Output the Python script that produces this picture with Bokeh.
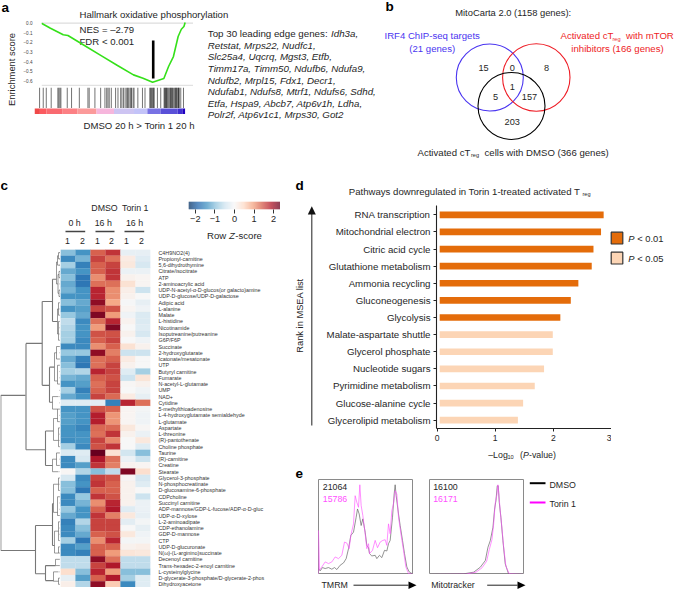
from bokeh.plotting import figure
from bokeh.models import FixedTicker, Range1d, LinearAxis
from bokeh.core.properties import value
from bokeh.embed import file_html
from bokeh.resources import INLINE
import math

FONT = "Liberation Sans"
INK = "#262626"

# ---- panel a: GSEA
es_rank = [0, 5.9, 14.3, 17.4, 26.9, 39.5, 50, 60.5, 66.8, 73.1, 80.5, 83.6, 86.8, 89.9, 92, 93.7, 94.5]
es_score = [0, -0.052, -0.12, -0.128, -0.219, -0.34, -0.441, -0.538, -0.573, -0.615, -0.576, -0.451, -0.347, -0.139, -0.0625, -0.035, 0.007]
es_ticks = [0, -0.1, -0.2, -0.3, -0.4, -0.5, -0.6]
peak_rank = 73.5
peak_span = [-0.18, -0.575]
hit_ranks = [3.2, 5.5, 7.4, 10.5, 14.7, 15.3, 16, 16.6, 20.6, 23.3, 28.2, 33.6, 34.4, 38, 41.6, 44.3, 45.4, 46.2,
             47, 48.3, 51, 52.5, 54.2, 55, 56, 57, 58, 58.6, 59, 60, 60.6, 61, 62, 62.6, 65, 67.9, 69.5, 72.5, 73, 73.5,
             74, 74.5, 75, 75.2, 77.3, 79.4, 81.5, 81.9, 82.3, 82.7, 83, 83.5, 84, 84.6, 85.2, 85.6, 86, 86.4, 86.8,
             87.5, 88.2, 88.6, 89, 89.4, 89.8, 90.5, 90.7, 91, 92, 93.7]
strip_edges = [0, 3.4, 7.6, 17.4, 26.9, 39, 50, 62.6, 71, 79.4, 90, 93, 94.7]
strip_colors = ["#f04848", "#fb5a5f", "#f96a70", "#fc8084", "#fb9a9a", "#f6b6dc", "#cdc4f2", "#c3c3f8",
                "#7872e4", "#5a50d8", "#4030d0", "#2000c0"]
gene_lines = ["Retstat, Mrps22, Nudfc1,", "Slc25a4, Uqcrq, Mgst3, Etfb,", "Timm17a, Timm50, Ndufb6, Ndufa9,",
              "Ndufb2, Mrpl15, Fdx1, Decr1,", "Ndufab1, Ndufs8, Mtrf1, Ndufs6, Sdhd,",
              "Etfa, Hspa9, Abcb7, Atp6v1h, Ldha,", "Polr2f, Atp6v1c1, Mrps30, Got2"]

# ---- panel b: Venn
venn_labels = ["15", "0", "8", "1", "5", "157", "203"]

# ---- panel c: heat map
metabolites = ["C4H9NO2(4)", "Propionyl-carnitine", "5,6-dihydrothymine", "Citrate/isocitrate", "ATP",
    "2-aminoacrylic acid", "UDP-N-acetyl-α-D-glucos(or galacto)amine", "UDP-D-glucose/UDP-D-galactose", "Adipic acid",
    "L-alanine", "Malate", "L-histidine", "Nicotinamide", "Isoputreanine/putreanine", "G6P/F6P", "Succinate",
    "2-hydroxyglutarate", "Icatonate/mesatonate", "UTP", "Butyryl carnitine", "Fumarate", "N-acetyl-L-glutamate",
    "UMP", "NAD+", "Cytidine", "5-methylthioadenosine", "L-4-hydroxyglutamate semialdehyde", "L-glutamate",
    "Aspartate", "L-threonine", "(R)-pantothenate", "Choline phosphate", "Taurine", "(R)-carnitine", "Creatine",
    "Stearate", "Glycerol-3-phosphate", "N-phosphocreatinate", "D-glucosamine-6-phosphate", "CDPcholine",
    "Succinyl carnitine", "ADP-mannose/GDP-L-fucose/ADP-α-D-gluc", "UDP-α-D-xylose", "L-2-aminoadipate",
    "CDP-ethanolamine", "GDP-D-mannose", "CTP", "UDP-D-glucuronate", "N(ω)-(L-arginino)succinate",
    "Decenoyl carnitine", "Trans-hexadec-2-enoyl carnitine", "L-cysteinylglycine",
    "D-glycerate-3-phosphate/D-glycerate-2-phos", "Dihydroxyacetone"]
z_rows = [
 [-1.0,-1.4,1.4,1.7,-0.2,-0.2],[-1.5,-1.1,1.6,1.3,0.2,-0.3],[-0.8,-1.6,1.4,1.6,0.25,-0.4],[-1.2,-1.4,1.4,1.7,-0.15,-0.15],
 [-1.0,-1.7,1.1,1.7,0.1,0.05],[-1.2,-1.7,1.3,1.3,0.35,0.05],[-1.1,-1.4,1.8,1.1,0.15,-0.5],[-1.4,-1.4,1.8,1.1,0.1,0.0],
 [-1.0,-1.2,2.1,0.9,-0.03,-0.2],[-1.4,-1.3,1.6,1.5,0.05,-0.1],[-0.9,-1.2,2.2,1.0,-0.1,-0.35],[-0.6,-1.5,1.3,1.8,0.08,-0.35],
 [-0.7,-1.4,1.0,2.2,0.0,-0.3],[-0.8,-1.4,1.5,1.5,0.1,-0.4],[-0.8,-1.5,1.4,1.6,0,-0.1],[-1.5,-1.5,1.1,1.4,0.35,0.1],
 [-0.9,-0.9,2.1,1.2,-0.5,-0.5],[-1.2,-1.6,1.3,1.4,0.2,0],[-1.0,-1.7,1.3,1.6,0.1,0.0],[-0.8,-0.7,1.8,1.6,-0.3,-0.8],
 [-1.1,-1.2,1.4,1.5,-0.5,0.3],[-1.4,-1.3,1.3,1.6,0.03,0.1],[-0.8,-1.6,1.4,1.6,0,-0.1],[-1.2,-1.4,1.6,1.35,0.2,-0.2],
 [-0.3,-0.3,-0.25,-1.6,1.8,1.3],[-1.4,-1.4,1.5,1.4,0.05,-0.05],[-1.3,-1.4,1.85,1.05,0.05,-0.1],[-1.3,-1.4,1.85,1.05,0.05,-0.1],
 [-1.4,-1.55,1.35,1.35,0.25,0.03],[-1.4,-1.4,1.3,1.7,0.1,-0.15],[-1.45,-1.4,1.6,1.15,0,0.25],[-0.8,-1.5,1.5,1.7,0,-0.3],
 [-0.35,-0.3,2.35,0.35,-0.45,-1.0],[-1.5,-0.4,1.9,1.3,-0.15,-0.5],[-1.5,-1.3,1.7,1.2,0.08,0.05],[0.03,-0.7,-1.0,-0.6,2.2,0.4],
 [-0.4,-1.5,1.6,1.5,0.03,-0.4],[-1.0,-1.4,1.7,1.4,0.1,-0.3],[-1.0,-1.7,1.4,1.4,0.1,0.0],[-1.5,-0.9,1.7,1.5,0.1,-0.5],
 [-1.5,-1.1,1.1,1.8,0.1,-0.15],[-0.9,-1.4,1.4,1.9,-0.3,-0.15],[-1.2,-1.4,1.7,1.2,0.25,-0.2],[-1.6,-0.7,1.6,1.6,-0.25,-0.05],
 [-1.5,-1.0,1.6,1.6,0.0,-0.2],[-1.5,-1.2,1.4,1.5,0.25,-0.1],[-0.8,-1.7,1.1,1.8,-0.05,-0.05],[-1.5,-1.3,1.4,1.4,0.1,0.15],
 [-1.5,-1.6,1.4,1.0,0.3,0.25],[-0.6,-0.6,2.1,1.3,-0.6,-0.6],[-0.6,-0.6,1.6,1.9,-0.6,-0.6],[0.4,-1.0,1.8,1.0,-1.0,-1.0],
 [-0.2,-1.3,1.4,1.9,-0.8,-0.3],[0.15,-0.7,2.1,0.6,-1.5,-0.3]]
palette_stops = ["#053061", "#2166ac", "#4393c3", "#92c5de", "#d1e5f0", "#f7f7f7", "#fddbc7", "#f4a582", "#d6604d", "#b2182b", "#67001f"]
z_limit = 2.35
z_ticks = [-2, -1, 0, 1, 2]
# dendrogram merges: height, top row, bottom row, height of top child, height of bottom child
dendro_main = [(59.7,23.8,48.6,35,25),(34.5,15.5,32.5,18.3,15),(18.3,8.8,22.2,8,11),(8,5.25,12,4,3),(11,19.3,24.9,6,8),
               (15,29.5,35,7,8),(25,44.6,52.3,8,15),(8,41.1,47.8,7,6),(15,51,53.4,5,7)]
dendro_fine = [(4,2.5,6,3,2.5),(3,1.5,3,2,0),(2,1,2,0,0),(2.5,4.5,7.5,1.5,1.5),(1.5,4,5,0,0),(1.5,7,8,0,0),
               (3,10,14,2,2),(2,9,11,1,1),(2,12,15,1,1),(6,17,21.5,4,3),(4,16,18,1,1),(3,19,22,1,1),(8,24,26,2,3),
               (7,27.5,31,3,2),(3,26,28,1,1),(2,29,32,1,1),(8,34,36,4,2),(4,33,35,1,1),
               (7,38,42.5,2,3),(2,37,39,1,1),(3,40,43,1,1),(6,45.5,49,2,2),(2,44,47,1,1),(2,48,49,1,1),
               (5,50,51,1,1),(7,52,53.5,2,2),(2,53,54,1,1)]

# ---- panel d: pathways
pathways = ["RNA transcription", "Mitochondrial electron", "Citric acid cycle", "Glutathione metabolism",
            "Ammonia recycling", "Gluconeogenesis", "Glycolysis", "Malate-aspartate shuttle", "Glycerol phosphate",
            "Nucleotide sugars", "Pyrimidine metabolism", "Glucose-alanine cycle", "Glycerolipid metabolism"]
log_p = [2.865, 2.82, 2.69, 2.66, 2.43, 2.30, 2.12, 1.99, 1.99, 1.84, 1.68, 1.48, 1.39]
n_strong = 7
ORANGE, PEACH = "#E46C0A", "#FCD5B5"

# ---- panel e: flow histograms
tmrm_dmso_x = [0,5,12,20,30,40,48,55,65,75,83,90,97,105,113,117,122,128,133,140,145,150,153,160,170,175,183,190,198,205,210,215,222,227,230,233,240,245,252,258,265,272,285]
tmrm_dmso_y = [18,11,21,18,21,16,21,15,28,35,48,78,118,128,173,198,183,148,168,128,88,81,63,56,58,48,58,51,73,71,93,103,173,243,271,238,183,148,103,63,23,8,0]
tmrm_torin_x = [0,0,3,10,20,30,40,50,60,70,78,85,92,97,105,110,115,120,124,128,133,140,145,150,153,162,170,177,185,193,200,205,210,215,220,225,230,235,240,248,255,262,270,285]
tmrm_torin_y = [0,133,13,23,38,33,38,53,48,58,98,95,78,118,153,238,218,203,271,208,178,123,78,93,63,73,103,81,98,103,105,88,153,123,193,213,253,243,173,118,73,23,3,0]
mito_dmso_x = [0,103,133,153,168,176,183,191,196,200,204,207,210,215,221,228,238,286]
mito_dmso_y = [0,2,7,22,42,82,102,142,197,222,267,267,217,172,102,32,2,0]
mito_torin_x = [0,110,140,158,172,180,188,193,198,203,206,209,213,218,223,230,240,286]
mito_torin_y = [0,1,7,20,40,75,105,150,215,240,270,240,190,140,85,25,2,0]
GREY_LINE, MAGENTA = "#666666", "#ff50ff"


def hex_rgb(h):
    return tuple(int(h[i:i+2], 16) for i in (1, 3, 5))


def z_color(z):
    t = max(0, min(0.9999, (z + z_limit) / (2 * z_limit))) * (len(palette_stops) - 1)
    i = int(t)
    a, b = hex_rgb(palette_stops[i]), hex_rgb(palette_stops[i + 1])
    f = t - i
    return "#%02x%02x%02x" % tuple(round(a[k] + (b[k] - a[k]) * f) for k in range(3))


def panel(left, top, w, h, xr, yr, bl=0, br=0, bt=0, bb=0):
    p = figure(width=w + bl + br, height=h + bt + bb, x_range=Range1d(*xr), y_range=Range1d(*yr),
               toolbar_location=None, output_backend="svg", min_border_left=bl, min_border_right=br,
               min_border_top=bt, min_border_bottom=bb, x_axis_location=None, y_axis_location=None,
               background_fill_alpha=0, border_fill_alpha=0, outline_line_color=None)
    p.grid.visible = False
    p.styles = {"position": "absolute", "left": f"{left - bl}px", "top": f"{top - bt}px"}
    return p


bg = panel(0, 0, 674, 589, (0, 674), (589, 0))


def T(x, y, s, size=9.2, color=INK, align="left", style="normal", angle=0, target=None):
    (target or bg).text(x=[x], y=[y], text=[s], text_font=value(FONT), text_font_size=f"{size}px",
                        text_color=color, text_align=align, text_baseline="middle", text_font_style=style, angle=angle)


# panel letters
for s, x, y in [("a", 1, 7), ("b", 385, 6), ("c", 0, 185), ("d", 295, 185), ("e", 295, 473)]:
    T(x, y, s, size=13.5, color="#000000", style="bold")

# ---------- a
a1 = panel(34, 20, 159, 66, (0, 100), (-0.659, 0.028), bl=14)
ax = LinearAxis(ticker=FixedTicker(ticks=es_ticks), major_label_text_font_size="4.6px", major_label_text_font=FONT,
                major_label_text_color="#444444", major_tick_line_color=None, minor_tick_line_color=None,
                axis_line_color=None, major_label_standoff=3,
                major_label_overrides={v: ("0.0" if v == 0 else "−%.1f" % abs(v)) for v in es_ticks})
a1.add_layout(ax, "left")
a1.line([0, 100], [0, 0], line_color="#dddddd", line_width=1.2)
a1.line([0, 100], [-0.652, -0.652], line_color="#e2e2e2", line_width=2)
a1.line([peak_rank, peak_rank], peak_span, line_color="#000000", line_width=2.6)
a1.line(es_rank, es_score, line_color="#35e01a", line_width=1.6)
a2 = panel(34, 87, 159, 27, (0, 100), (0, 27))
a2.segment(x0=hit_ranks, x1=hit_ranks, y0=[6.5] * len(hit_ranks), y1=[27] * len(hit_ranks), line_color="#000000",
           line_alpha=0.55, line_width=1)
a2.quad(left=strip_edges[:-1], right=strip_edges[1:], bottom=[0] * len(strip_colors), top=[6] * len(strip_colors),
        fill_color=strip_colors, line_color=None)
T(79, 14.3, "Hallmark oxidative phosphorylation", 9.6)
T(79, 28.7, "NES = –2.79", 9.6)
T(79, 41.3, "FDR < 0.001", 9.6)
T(11, 69, "Enrichment score", 9.4, angle=math.pi / 2, align="center")
T(83, 124.7, "DMSO 20 h > Torin 1 20 h", 9.6)
T(207.3, 33, "Top 30 leading edge genes: ", 9.75)
T(330.5, 33, "Idh3a,", 9.75, style="italic")
for i, line in enumerate(gene_lines):
    T(207.3, 44.7 + i * 11.6, line, 9.75, style="italic")

# ---------- b
BLUE, RED = "#4a35f0", "#ee1c25"
bg.circle(x=[489.3], y=[77], radius=33.5, fill_color=None, line_color=BLUE, line_width=1.1)
bg.circle(x=[535.8], y=[77], radius=33.7, fill_color=None, line_color=RED, line_width=1.1)
bg.circle(x=[511], y=[105.5], radius=33.5, fill_color=None, line_color="#000000", line_width=1.1)
for s, x, y in zip(venn_labels, [483, 511.7, 546, 511.7, 495, 529, 511.7], [67, 67, 67, 86.3, 96.3, 96.3, 121.3]):
    T(x, y, s, 9.2, align="center")
T(512.7, 12.3, "MitoCarta 2.0 (1158 genes):", 9.4, align="center")
T(431.7, 35.3, "IRF4 ChIP-seq targets", 9.6, BLUE, align="center")
T(431.7, 47.7, "(21 genes)", 9.6, BLUE, align="center")
T(560, 35.3, "Activated cT", 9.6, RED)
T(612, 38, "reg", 5.6, RED)
T(625.5, 35.3, "with mTOR", 9.6, RED)
T(617, 47.7, "inhibitors (166 genes)", 9.6, RED, align="center")
T(417, 151.7, "Activated cT", 9.6)
T(470.5, 154.4, "reg", 5.6)
T(484, 151.7, "cells with DMSO (366 genes)", 9.6)

# ---------- c
n_rows = len(metabolites)
h = panel(60, 249, 90, 338, (0, 6), (n_rows + 0.5, 0.5), br=125)
xs, ys, cs = [], [], []
for r, row in enumerate(z_rows):
    for c, z in enumerate(row):
        xs.append(c + 0.5); ys.append(r + 1); cs.append(z_color(z))
h.rect(x=xs, y=ys, width=1, height=1, fill_color=cs, line_color=cs, line_width=0.2)
lab = LinearAxis(ticker=FixedTicker(ticks=list(range(1, n_rows + 1))), axis_line_color=None,
                 major_tick_line_color=None, minor_tick_line_color=None, major_label_standoff=2,
                 major_label_text_font=FONT, major_label_text_font_size="5.35px", major_label_text_color="#333333",
                 major_label_overrides={i + 1: m for i, m in enumerate(metabolites)})
h.add_layout(lab, "right")

d = panel(0, 249, 60, 338, (60, 0), (n_rows + 0.5, 0.5))


def brackets(fig, merges, color, width):
    x0, y0, x1, y1 = [], [], [], []
    for hgt, r1, r2, c1, c2 in merges:
        x0 += [hgt, hgt, hgt]; x1 += [hgt, c1, c2]
        y0 += [r1, r1, r2]; y1 += [r2, r1, r2]
    fig.segment(x0=x0, y0=y0, x1=x1, y1=y1, line_color=color, line_width=width)


brackets(d, dendro_fine, "#555555", 0.6)
brackets(d, dendro_main, "#777777", 1.1)
rows_idx = list(range(1, n_rows + 1))
d.segment(x0=[1.5] * n_rows, x1=[0] * n_rows, y0=rows_idx, y1=rows_idx, line_color="#888888", line_width=0.4)

T(104, 207.7, "DMSO", 8.8, align="center")
T(134.7, 207.7, "Torin 1", 8.8, align="center")
for s, x in zip(["0 h", "16  h", "16 h"], [74, 104, 134]):
    T(x, 222.7, s, 8.8, align="center")
for x0, x1 in [(65, 84.7), (95, 114), (124, 143.7)]:
    bg.line([x0, x1], [231, 231], line_color="#444444", line_width=1.5)
for s, x in zip("121212", [67, 82, 97, 111, 126, 141]):
    T(x, 240, s, 8.8, align="center")

steps = [-z_limit + i * 2 * z_limit / 92 for i in range(92)]
cb = panel(188, 201, 92, 8, (-z_limit, z_limit), (0, 1), bb=22)
cb.quad(left=steps, right=[s + 2 * z_limit / 92 for s in steps], bottom=[0] * 92, top=[1] * 92,
        fill_color=[z_color(s + z_limit / 92) for s in steps], line_color=None)
cbax = LinearAxis(ticker=FixedTicker(ticks=z_ticks), major_label_text_font=FONT, major_label_text_font_size="9.2px",
                  major_label_text_color=INK, axis_line_color=None, major_tick_line_color="#333333",
                  major_tick_out=4, major_tick_in=0, minor_tick_line_color=None, major_label_standoff=2)
cb.add_layout(cbax, "below")
T(206.5, 235, "Row", 9.6)
T(228.5, 235, "Z", 9.6, style="italic")
T(234.8, 235, "-score", 9.6)

# ---------- d
dp = panel(436, 205, 175, 223, (-0.01, 3.0), (13.485, 0.456), bl=130, bb=18)
pos = list(range(1, len(pathways) + 1))
colors = [ORANGE] * n_strong + [PEACH] * (len(pathways) - n_strong)
dp.hbar(y=pos, left=[0.045] * len(pos), right=log_p, height=0.39, fill_color=colors, line_color=None)
yax = LinearAxis(ticker=FixedTicker(ticks=pos), major_label_overrides={i + 1: s for i, s in enumerate(pathways)},
                 major_label_text_font=FONT, major_label_text_font_size="9.7px", major_label_text_color=INK,
                 axis_line_color="#222222", axis_line_width=1.1, major_tick_line_color="#222222", major_tick_out=3,
                 major_tick_in=0, minor_tick_line_color=None, major_label_standoff=3)
dp.add_layout(yax, "left")
xax = LinearAxis(ticker=FixedTicker(ticks=[0, 1, 2, 3]), major_label_text_font=FONT, major_label_text_font_size="8.6px",
                 major_label_text_color=INK, axis_line_color="#222222", axis_line_width=1.1,
                 major_tick_line_color="#222222", major_tick_out=3, major_tick_in=0, minor_tick_line_color=None,
                 major_label_standoff=3)
dp.add_layout(xax, "below")
T(348.3, 190.7, "Pathways downregulated in Torin 1-treated activated T", 9.6)
T(582, 193.4, "reg", 5.6)
T(487.7, 454, "–Log", 8.8)
T(507, 456.5, "10", 5.6)
T(519.5, 454, "(", 8.8)
T(522.5, 454, "P", 8.8, style="italic")
T(528.5, 454, "-value)", 8.8)
T(299, 315, "Rank in MSEA list", 9.3, angle=math.pi / 2, align="center")
bg.line([311.3, 311.3], [425, 212], line_color="#333333", line_width=1.1)
bg.patch([311.3, 307.3, 315.3], [205.7, 214, 214], fill_color="#111111", line_color=None)
for y0, col, s in [(231.7, ORANGE, "< 0.01"), (251.7, PEACH, "< 0.05")]:
    bg.quad(left=[610.7], right=[622.3], top=[y0], bottom=[y0 + 11.8], fill_color=col, line_color="#333333", line_width=1.2)
    T(627.7, y0 + 6, "P", 9.4, style="italic")
    T(636.7, y0 + 6, s, 9.4)

# ---------- e
e1 = panel(318, 479, 95, 95, (0, 285), (0, 287))
e1.line(tmrm_dmso_x, tmrm_dmso_y, line_color=GREY_LINE, line_width=0.7)
e1.line(tmrm_torin_x, tmrm_torin_y, line_color=MAGENTA, line_width=0.8, line_alpha=0.8)
e2 = panel(429, 479, 95, 95, (0, 286), (0, 286))
e2.line(mito_dmso_x, mito_dmso_y, line_color=GREY_LINE, line_width=0.7)
e2.line(mito_torin_x, mito_torin_y, line_color=MAGENTA, line_width=0.8, line_alpha=0.8)
for e in (e1, e2):
    e.outline_line_color = "#8a8a8a"
    e.outline_line_width = 1
T(322.3, 486, "21064", 8.8)
T(322.3, 498.3, "15786", 8.8, MAGENTA)
T(432.7, 486, "16100", 8.8)
T(432.7, 498.3, "16171", 8.8, MAGENTA)
T(321, 584, "TMRM", 8.8)
T(430.7, 584.5, "Mitotracker", 8.8)
for x0, x1 in [(353, 408), (486.7, 517)]:
    bg.line([x0, x1], [584.7, 584.7], line_color="#222222", line_width=1)
    bg.patch([x1 + 8, x1, x1], [584.7, 581, 588.4], fill_color="#000000", line_color=None)
bg.line([529.3, 545], [482.7, 482.7], line_color="#000000", line_width=2)
bg.line([529.3, 545], [502, 502], line_color="#ff00ff", line_width=2)
T(549, 484, "DMSO", 8.8)
T(549, 503, "Torin 1", 8.8)

open("out.html", "w").write(file_html([bg, a1, a2, h, d, cb, dp, e1, e2], INLINE))
